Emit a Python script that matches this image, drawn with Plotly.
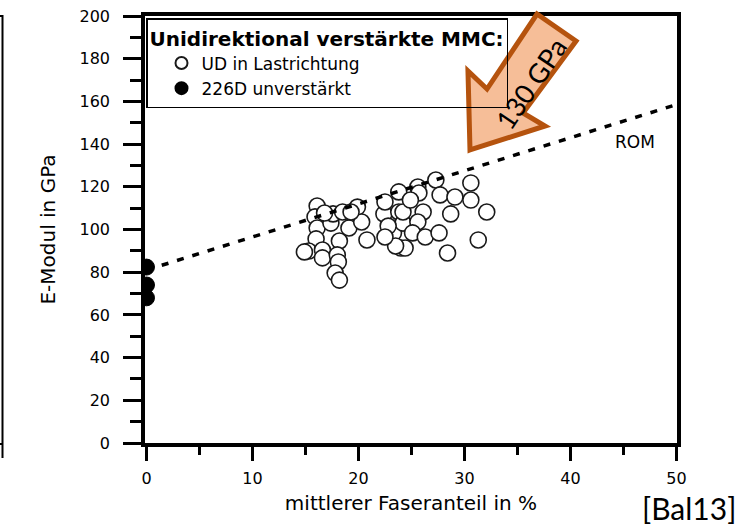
import plotly.graph_objects as go

# ---------------- data ----------------
ud_x = [16.1, 15.9, 16.1, 16.0, 15.3, 14.9, 16.6, 16.6, 17.4, 17.6, 18.5, 18.2, 18.0, 18.1,
        17.8, 18.2, 19.1, 19.9, 20.3, 20.8, 22.4, 22.5, 23.8, 23.3, 23.8, 24.2, 24.0, 24.4,
        23.5, 27.3, 25.6, 25.7, 27.7, 29.1, 30.6, 30.6, 32.1, 28.7, 26.1, 24.2, 25.6, 25.1,
        26.3, 27.6, 31.3, 28.4, 16.8, 19.3, 22.8, 24.9, 22.5]
ud_y = [111.0, 105.9, 100.7, 95.6, 89.9, 89.5, 90.4, 86.7, 103.0, 107.3, 108.2, 94.6, 88.1, 84.8,
        79.6, 76.3, 100.7, 110.5, 103.5, 95.1, 107.3, 112.9, 108.2, 98.4, 117.6, 103.0, 91.3, 91.3,
        92.3, 123.2, 119.9, 117.1, 116.2, 115.2, 121.8, 113.8, 108.2, 107.3, 108.2, 108.2, 103.5, 98.4,
        96.5, 98.4, 95.1, 89.0, 107.7, 108.2, 101.6, 113.8, 96.5]

unv_x = [0, 0, 0]
unv_y = [82.4, 74.0, 68.0]

rom_x = [0, 50]
rom_y = [81.0, 158.5]

x_ticks = [0, 10, 20, 30, 40, 50]
y_ticks = [0, 20, 40, 60, 80, 100, 120, 140, 160, 180, 200]

# ---------------- layout geometry ----------------
W, H = 753, 529
ML, MR, MT, MB = 145, 76, 16, 86
PW, PH = W - ML - MR, H - MT - MB


def px(xp, yp):
    """pixel position -> paper coordinates"""
    return (xp - ML) / PW, (H - MB - yp) / PH


FONT = "DejaVu Sans"

fig = go.Figure()

fig.add_trace(go.Scatter(
    x=ud_x, y=ud_y, mode="markers", name="UD in Lastrichtung",
    marker=dict(symbol="circle", size=16, color="white",
                line=dict(color="#1a1a1a", width=1.6)),
))
fig.add_trace(go.Scatter(
    x=rom_x, y=rom_y, mode="lines", showlegend=False,
    line=dict(color="black", width=3.5, dash="7px,9px"),
))
fig.add_trace(go.Scatter(
    x=unv_x, y=unv_y, mode="markers", name="226D unverstärkt",
    marker=dict(symbol="circle", size=16, color="black",
                line=dict(color="black", width=1)),
))

# arrow (annotation decoration) in pixel->paper coords
arrow_px = [(470, 150), (545, 126), (523, 113), (576, 41), (537, 14), (487, 89), (468, 71)]
pts = [px(a, b) for a, b in arrow_px]
path = "M " + " L ".join(f"{a:.4f},{b:.4f}" for a, b in pts) + " Z"

left_line = [px(2.5, 15), px(2.5, 458)]

fig.update_layout(
    width=W, height=H,
    margin=dict(l=ML, r=MR, t=MT, b=MB, pad=0, autoexpand=False),
    paper_bgcolor="white", plot_bgcolor="white",
    font=dict(family=FONT, color="black", size=16),
    showlegend=True,
    legend=dict(
        x=px(146, 0)[0], y=px(0, 18)[1], xanchor="left", yanchor="top",
        bgcolor="rgba(0,0,0,0)", bordercolor="black", borderwidth=1.5,
        font=dict(family=FONT, size=17, color="black"),
        title=dict(text="<b>Unidirektional verstärkte MMC:</b>",
                   font=dict(family=FONT, size=20, color="black")),
        indentation=14, tracegroupgap=0, itemsizing="constant",
    ),
    xaxis=dict(
        range=[-0.14, 50.05], tickvals=x_ticks, ticktext=[str(v) for v in x_ticks],
        showgrid=False, zeroline=False, automargin=False,
        showline=True, linecolor="black", linewidth=3.5, mirror=True,
        ticks="outside", ticklen=14, tickwidth=3, tickcolor="black",
        minor=dict(dtick=5, ticks="outside", ticklen=8, tickwidth=3, tickcolor="black"),
        tickfont=dict(family=FONT, size=16, color="black"),
        ticklabelstandoff=4,
        title=dict(text="mittlerer Faseranteil in %", standoff=10,
                   font=dict(family=FONT, size=20, color="black")),
    ),
    yaxis=dict(
        range=[0, 200], tickvals=y_ticks, ticktext=[str(v) for v in y_ticks],
        showgrid=False, zeroline=False, automargin=False,
        showline=True, linecolor="black", linewidth=3.5, mirror=True,
        ticks="outside", ticklen=18, tickwidth=3, tickcolor="black",
        minor=dict(dtick=10, ticks="outside", ticklen=11, tickwidth=3, tickcolor="black"),
        tickfont=dict(family=FONT, size=16, color="black"),
        ticklabelstandoff=10,
        title=dict(text="E-Modul in GPa", standoff=20,
                   font=dict(family=FONT, size=20, color="black")),
    ),
    shapes=[
        dict(type="path", path=path, xref="paper", yref="paper", layer="above",
             fillcolor="rgba(237,125,49,0.5)", line=dict(color="#B5530E", width=5)),
        dict(type="line", xref="paper", yref="paper",
             x0=left_line[0][0], y0=left_line[0][1], x1=left_line[1][0], y1=left_line[1][1],
             line=dict(color="black", width=2)),
        dict(type="line", xref="paper", yref="paper",
             x0=px(0, 16)[0], y0=px(0, 16)[1], x1=px(3, 16)[0], y1=px(3, 16)[1],
             line=dict(color="black", width=2)),
        dict(type="line", xref="paper", yref="paper",
             x0=px(0, 444)[0], y0=px(0, 444)[1], x1=px(3, 444)[0], y1=px(3, 444)[1],
             line=dict(color="black", width=2)),
    ],
    annotations=[
        dict(text="130 GPa", xref="paper", yref="paper",
             x=px(531, 84)[0], y=px(531, 84)[1], xanchor="center", yanchor="middle",
             textangle=-56, showarrow=False,
             font=dict(family="Lato", size=27, color="black")),
        dict(text="ROM", xref="x", yref="y", x=46.1, y=141, showarrow=False,
             xanchor="center", yanchor="middle",
             font=dict(family=FONT, size=17, color="black")),
        dict(text="[Bal13]", xref="paper", yref="paper",
             x=px(689, 0)[0], y=px(0, 508)[1], xanchor="center", yanchor="middle",
             showarrow=False, font=dict(family="Lato", size=30, color="black")),
    ],
)

fig.write_html("out.html")
